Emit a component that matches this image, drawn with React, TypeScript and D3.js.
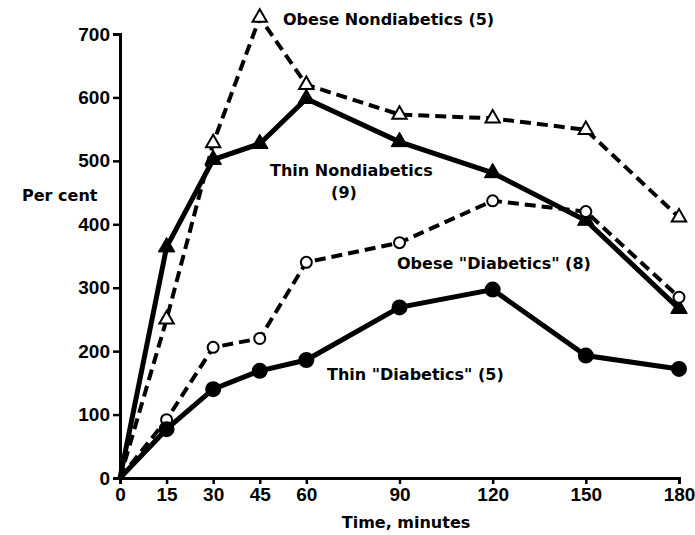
import React, { useEffect, useRef } from 'react';
import * as d3 from 'd3';

const minutes = [0, 15, 30, 45, 60, 90, 120, 150, 180];
const obeseNondiabetics = [0, 250, 528, 726, 620, 573, 567, 549, 411];
const thinNondiabetics = [0, 364, 502, 527, 598, 530, 481, 406, 267];
const obeseDiabetics = [0, 92, 206, 220, 340, 371, 437, 420, 285];
const thinDiabetics = [0, 77, 140, 169, 186, 269, 297, 193, 172];
const yTicks = [0, 100, 200, 300, 400, 500, 600, 700];

interface Series {
  name: string;
  values: number[];
  dashed: boolean;
  marker: 'triangle' | 'circle';
  filled: boolean;
}

const series: Series[] = [
  { name: 'Obese Nondiabetics', values: obeseNondiabetics, dashed: true, marker: 'triangle', filled: false },
  { name: 'Thin Nondiabetics', values: thinNondiabetics, dashed: false, marker: 'triangle', filled: true },
  { name: 'Obese Diabetics', values: obeseDiabetics, dashed: true, marker: 'circle', filled: false },
  { name: 'Thin Diabetics', values: thinDiabetics, dashed: false, marker: 'circle', filled: true },
];

const App: React.FC = () => {
  const ref = useRef<SVGSVGElement>(null);

  useEffect(() => {
    if (!ref.current) return;
    const svg = d3.select(ref.current);
    svg.selectAll('*').remove();

    const font = '"DejaVu Sans", sans-serif';
    const tickFont = '"Liberation Sans", Arial, sans-serif';
    const x = d3.scaleLinear().domain([0, 180]).range([120, 679]);
    const y = d3.scaleLinear().domain([0, 700]).range([478, 34]);

    const g = svg.append('g');

    // axes
    const xAxis = g.append('g')
      .attr('transform', `translate(0,${y(0)})`)
      .call(d3.axisBottom(x).tickValues(minutes).tickSize(6).tickPadding(4).tickFormat(d3.format('d')));
    const yAxis = g.append('g')
      .attr('transform', `translate(${x(0)},0)`)
      .call(d3.axisLeft(y).tickValues(yTicks).tickSize(7).tickPadding(3).tickFormat(d3.format('d')));
    [xAxis, yAxis].forEach(a => {
      a.select('.domain').attr('stroke', '#000').attr('stroke-width', 3);
      a.selectAll('.tick line').attr('stroke', '#000').attr('stroke-width', 2.5);
      a.selectAll('.tick text')
        .attr('fill', '#000')
        .attr('font-family', tickFont)
        .attr('font-size', 19)
        .attr('font-weight', 'bold');
    });

    const line = d3.line<number>()
      .x((_, i) => x(minutes[i]))
      .y(d => y(d));

    series.forEach(s => {
      g.append('path')
        .datum(s.values)
        .attr('fill', 'none')
        .attr('stroke', '#000')
        .attr('stroke-width', s.dashed ? 4 : 5)
        .attr('stroke-dasharray', s.dashed ? '11,6' : null)
        .attr('d', line);
    });

    series.forEach(s => {
      const pts = s.values.slice(1).map((v, i) => ({ t: minutes[i + 1], v }));
      if (s.marker === 'triangle') {
        const tri = d3.symbol().type(d3.symbolTriangle).size(s.filled ? 120 : 90);
        g.selectAll(null)
          .data(pts)
          .enter().append('path')
          .attr('d', tri)
          .attr('transform', d => `translate(${x(d.t)},${y(d.v)})`)
          .attr('fill', s.filled ? '#000' : '#fff')
          .attr('stroke', '#000')
          .attr('stroke-width', s.filled ? 1 : 2);
      } else {
        g.selectAll(null)
          .data(pts)
          .enter().append('circle')
          .attr('cx', d => x(d.t))
          .attr('cy', d => y(d.v))
          .attr('r', s.filled ? 7 : 5.5)
          .attr('fill', s.filled ? '#000' : '#fff')
          .attr('stroke', '#000')
          .attr('stroke-width', 2);
      }
    });

    const label = (txt: string, lx: number, ly: number, anchor = 'start', size = 16) =>
      g.append('text')
        .attr('x', lx)
        .attr('y', ly)
        .attr('text-anchor', anchor)
        .attr('font-family', font)
        .attr('font-size', size)
        .attr('font-weight', 'bold')
        .attr('fill', '#000')
        .text(txt);

    label('Obese Nondiabetics (5)', 283, 25);
    label('Thin Nondiabetics', 270, 176);
    label('(9)', 344, 198, 'middle');
    label('Obese "Diabetics" (8)', 397, 269);
    label('Thin "Diabetics" (5)', 327, 380);
    label('Per cent', 22, 201, 'start', 16);
    label('Time, minutes', 406, 528, 'middle', 16);
  }, []);

  return (
    <svg ref={ref} width={695} height={535}
      style={{ position: 'absolute', left: 0, top: 0, background: '#fff' }} />
  );
};

export default App;
